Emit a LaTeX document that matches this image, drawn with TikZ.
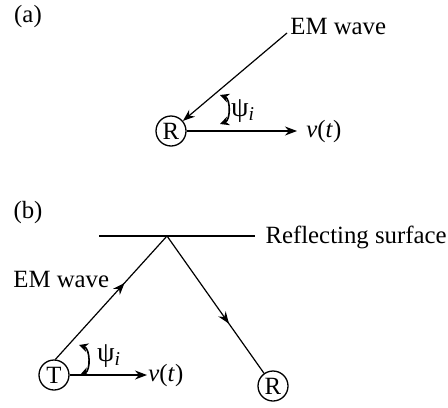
\documentclass[tikz,border=0pt]{standalone}
\usepackage{fontspec}
\setmainfont{Liberation Serif}
\usetikzlibrary{arrows.meta,decorations.markings}
\begin{document}
\begin{tikzpicture}[x=0.5pt,y=-0.5pt,
  every node/.style={font=\fontsize{12.4}{14}\selectfont, inner sep=0pt},
  station/.style={draw,circle,line width=0.65pt,minimum size=15pt,inner sep=0pt},
  ray/.style={line width=0.6pt},
  tip/.style={-{Stealth[length=6pt,width=4.5pt]}},
  midtip/.style={postaction={decorate},decoration={markings,mark=at position #1 with {\arrow{Stealth[length=6pt,width=4.5pt]}}}},
  anglearc/.style={line width=0.8pt,{Stealth[length=4.5pt,width=4.5pt]}-{Stealth[length=4.5pt,width=4.5pt]}},
  psilabel/.style={font=\fontsize{14}{16}\selectfont}
]
\useasboundingbox (0,0) rectangle (448,407);
% ---------- (a)
\node (la) at (28,17) {(a)};
\node[station] (Ra) at (171,131) {R};
\node[anchor=west] (ema) at (290,27) {EM wave};
\coordinate (wa) at (287,33);
\draw[ray,tip] (wa) -- (Ra);
\node[anchor=west] (va) at (306,132) {\textit{v}(\textit{t})};
\draw[ray,tip,shorten >=4.5pt] (Ra) -- (va.west |- Ra.east);
\coordinate (a1) at (220,95);
\coordinate (a2) at (220,124);
\draw[anglearc] (a1) to[bend left=70] (a2);
\node[psilabel] (psa) at (243,111) {ψ\textsubscript{\textit{i}}};
% ---------- (b)
\node (lb) at (28,213) {(b)};
\coordinate (sl) at (99,236);
\coordinate (sr) at (255,236);
\coordinate (apex) at (167,236);
\draw[ray] (sl) -- (sr);
\node[anchor=east] (rs) at (447,237) {Reflecting surface};
\node[station] (T) at (54,375) {T};
\node[station] (Rb) at (273,386) {R};
\node[anchor=west] (emb) at (13,279) {EM wave};
\draw[ray,midtip=0.62] (T.85) -- (apex);
\draw[ray,midtip=0.64] (apex) -- (Rb);
\node[anchor=west] (vb) at (148,376) {\textit{v}(\textit{t})};
\draw[ray,tip,shorten >=0.5pt] (T) -- (vb.west |- T.east);
\coordinate (b1) at (79,345);
\coordinate (b2) at (80,375);
\draw[anglearc] (b1) to[bend left=70] (b2);
\node[psilabel] (psb) at (109,356) {ψ\textsubscript{\textit{i}}};
\end{tikzpicture}
\end{document}
